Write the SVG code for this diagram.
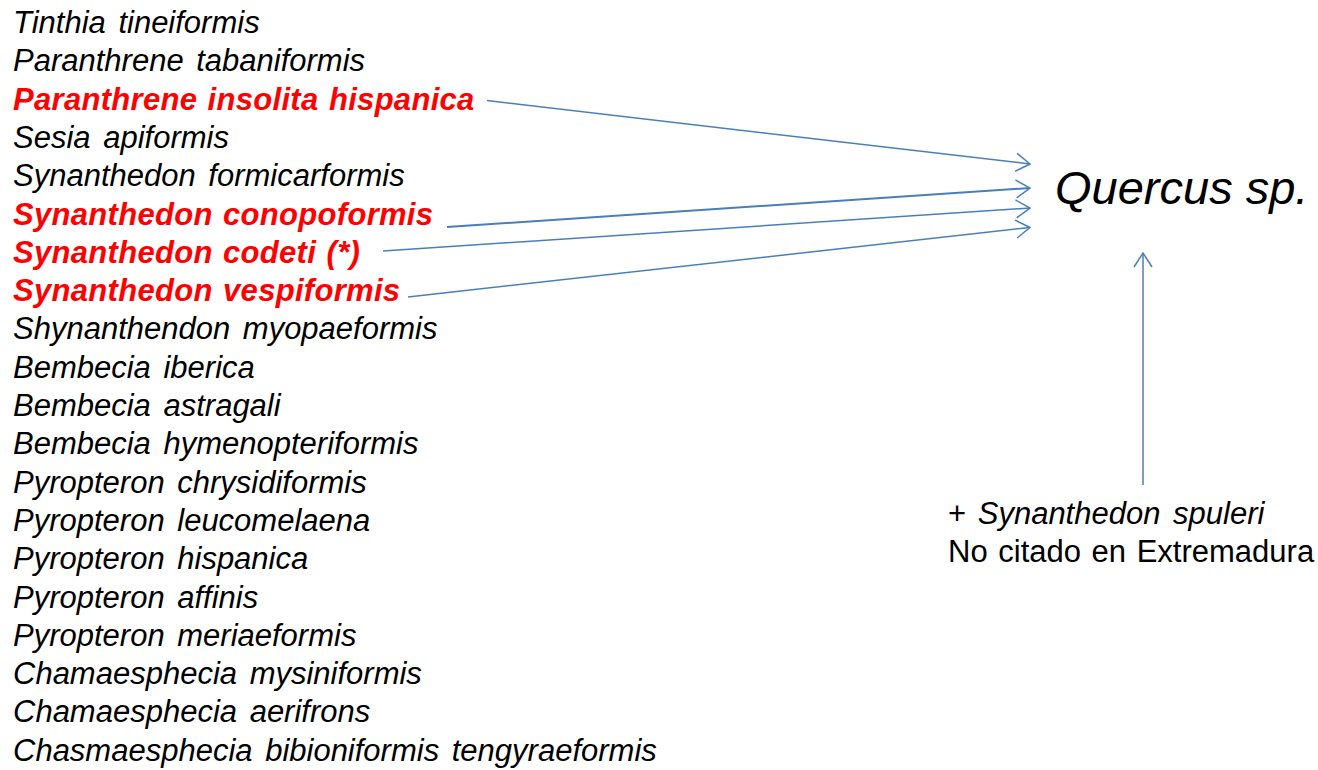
<svg xmlns="http://www.w3.org/2000/svg" width="1318" height="770" viewBox="0 0 1318 770">
<style>
text{font-family:"Liberation Sans",Arial,sans-serif;font-size:31px;fill:#000}
.it{font-style:italic;word-spacing:4px}
.red{font-style:italic;font-weight:bold;fill:#FF0000;letter-spacing:0.3px;word-spacing:1.5px}
.con{fill:none;stroke:#4A7EBB;stroke-width:1.5}
.head{fill:none;stroke:#4A7EBB;stroke-width:1.5;stroke-linejoin:miter}
</style>
<defs>
<marker id="arr" viewBox="0 0 16 20" refX="15" refY="10" markerWidth="16" markerHeight="20" markerUnits="userSpaceOnUse" orient="auto">
<path d="M1,1 L15,10 L1,19" class="head"/>
</marker>
</defs>
<rect width="1318" height="770" fill="#fff"/>
<g id="species">
<text class="it" x="13" y="33">Tinthia tineiformis</text>
<text class="it" x="13" y="71.3">Paranthrene tabaniformis</text>
<text class="red" x="13" y="109.6">Paranthrene insolita hispanica</text>
<text class="it" x="13" y="147.9">Sesia apiformis</text>
<text class="it" x="13" y="186.2">Synanthedon formicarformis</text>
<text class="red" x="13" y="224.5">Synanthedon conopoformis</text>
<text class="red" x="13" y="262.8">Synanthedon codeti (*)</text>
<text class="red" x="13" y="301.1">Synanthedon vespiformis</text>
<text class="it" x="13" y="339.4">Shynanthendon myopaeformis</text>
<text class="it" x="13" y="377.7">Bembecia iberica</text>
<text class="it" x="13" y="416">Bembecia astragali</text>
<text class="it" x="13" y="454.3">Bembecia hymenopteriformis</text>
<text class="it" x="13" y="492.6">Pyropteron chrysidiformis</text>
<text class="it" x="13" y="530.9">Pyropteron leucomelaena</text>
<text class="it" x="13" y="569.2">Pyropteron hispanica</text>
<text class="it" x="13" y="607.5">Pyropteron affinis</text>
<text class="it" x="13" y="645.8">Pyropteron meriaeformis</text>
<text class="it" x="13" y="684.1">Chamaesphecia mysiniformis</text>
<text class="it" x="13" y="722.4">Chamaesphecia aerifrons</text>
<text class="it" x="13" y="760.7">Chasmaesphecia bibioniformis tengyraeformis</text>
</g>
<g id="quercus">
<text x="1055" y="204" style="font-size:47px;font-style:italic">Quercus sp.</text>
</g>
<g id="note">
<text x="948" y="524" style="word-spacing:3px">+ <tspan class="it">Synanthedon spuleri</tspan></text>
<text x="948" y="562" style="word-spacing:2px">No citado en Extremadura</text>
</g>
<g id="connectors">
<line class="con" x1="487" y1="100.5" x2="1030" y2="164" marker-end="url(#arr)"/>
<line class="con" x1="447" y1="227" x2="1030" y2="188" marker-end="url(#arr)" style="stroke-width:2"/>
<line class="con" x1="383" y1="251" x2="1030" y2="208" marker-end="url(#arr)"/>
<line class="con" x1="408" y1="297" x2="1030" y2="227.5" marker-end="url(#arr)"/>
<line class="con" x1="1143" y1="485" x2="1143" y2="253" marker-end="url(#arr)"/>
</g>
</svg>
